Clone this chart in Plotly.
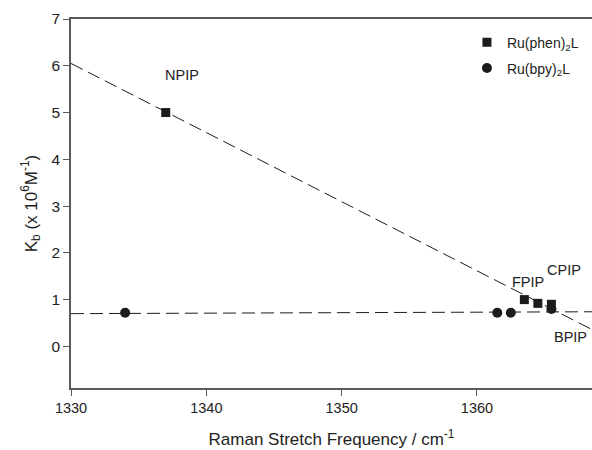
import plotly.graph_objects as go

# ---- data ----
phen_x = [1337.0, 1363.5, 1364.5, 1365.5]
phen_y = [5.0, 1.0, 0.92, 0.90]
bpy_x = [1334.0, 1361.5, 1362.5, 1365.5]
bpy_y = [0.72, 0.72, 0.72, 0.80]

fit_x = [1330.0, 1368.5]
fit_phen_y = [6.05, 0.36]
fit_bpy_y = [0.70, 0.74]

label_text = ["NPIP", "FPIP", "CPIP", "BPIP"]
label_x = [1338.2, 1363.8, 1366.4, 1366.9]
label_y = [5.81, 1.38, 1.64, 0.19]

x_ticks = [1330, 1340, 1350, 1360]
y_ticks = [0, 1, 2, 3, 4, 5, 6, 7]

FONT = "Liberation Sans, Arial, sans-serif"
INK = "#1c1c1c"
AXIS = "#5a5a5a"

fig = go.Figure()

fig.add_trace(go.Scatter(x=fit_x, y=fit_phen_y, mode="lines",
                         line=dict(color=INK, width=1, dash="13px,6px"),
                         showlegend=False, hoverinfo="skip"))
fig.add_trace(go.Scatter(x=fit_x, y=fit_bpy_y, mode="lines",
                         line=dict(color=INK, width=1, dash="13px,6px"),
                         showlegend=False, hoverinfo="skip"))

fig.add_trace(go.Scatter(x=phen_x, y=phen_y, mode="markers",
                         name="Ru(phen)<sub>2</sub>L",
                         marker=dict(symbol="square", size=9, color=INK),
                         legend="legend"))
fig.add_trace(go.Scatter(x=bpy_x, y=bpy_y, mode="markers",
                         name="Ru(bpy)<sub>2</sub>L",
                         marker=dict(symbol="circle", size=10, color=INK),
                         legend="legend2"))

for t, x, y in zip(label_text, label_x, label_y):
    fig.add_annotation(x=x, y=y, text=t, showarrow=False,
                       font=dict(family=FONT, size=14.5, color="#222"))

leg_common = dict(bgcolor="rgba(0,0,0,0)", borderwidth=0,
                  font=dict(family=FONT, size=14, color="#222"),
                  xanchor="left", yanchor="middle")

fig.update_layout(
    width=592, height=450,
    margin=dict(l=70.5, r=0, t=19.3, b=61.7),
    paper_bgcolor="white", plot_bgcolor="white",
    font=dict(family=FONT, size=14, color="#222"),
    legend=dict(x=0.76, y=0.936, **leg_common),
    legend2=dict(x=0.76, y=0.866, **leg_common),
    xaxis=dict(range=[1330, 1368.5], tickvals=x_ticks, ticks="outside",
               ticklen=6, tickcolor=AXIS, showline=True, linecolor=AXIS,
               linewidth=1.5, mirror=True, showgrid=False, zeroline=False,
               tickfont=dict(size=14.5, color="#222"),
               title=dict(text="Raman Stretch Frequency / cm<sup>-1</sup>",
                          font=dict(size=17), standoff=18)),
    yaxis=dict(range=[-0.89, 7], tickvals=y_ticks, ticks="outside",
               ticklen=6, tickcolor=AXIS, showline=True, linecolor=AXIS,
               linewidth=1.5, showgrid=False, zeroline=False,
               tickfont=dict(size=15.5, color="#222"),
               title=dict(text="K<sub>b</sub> (x 10<sup>6</sup>M<sup>-1</sup>)",
                          font=dict(size=17), standoff=10)),
)

fig.write_html("out.html")
